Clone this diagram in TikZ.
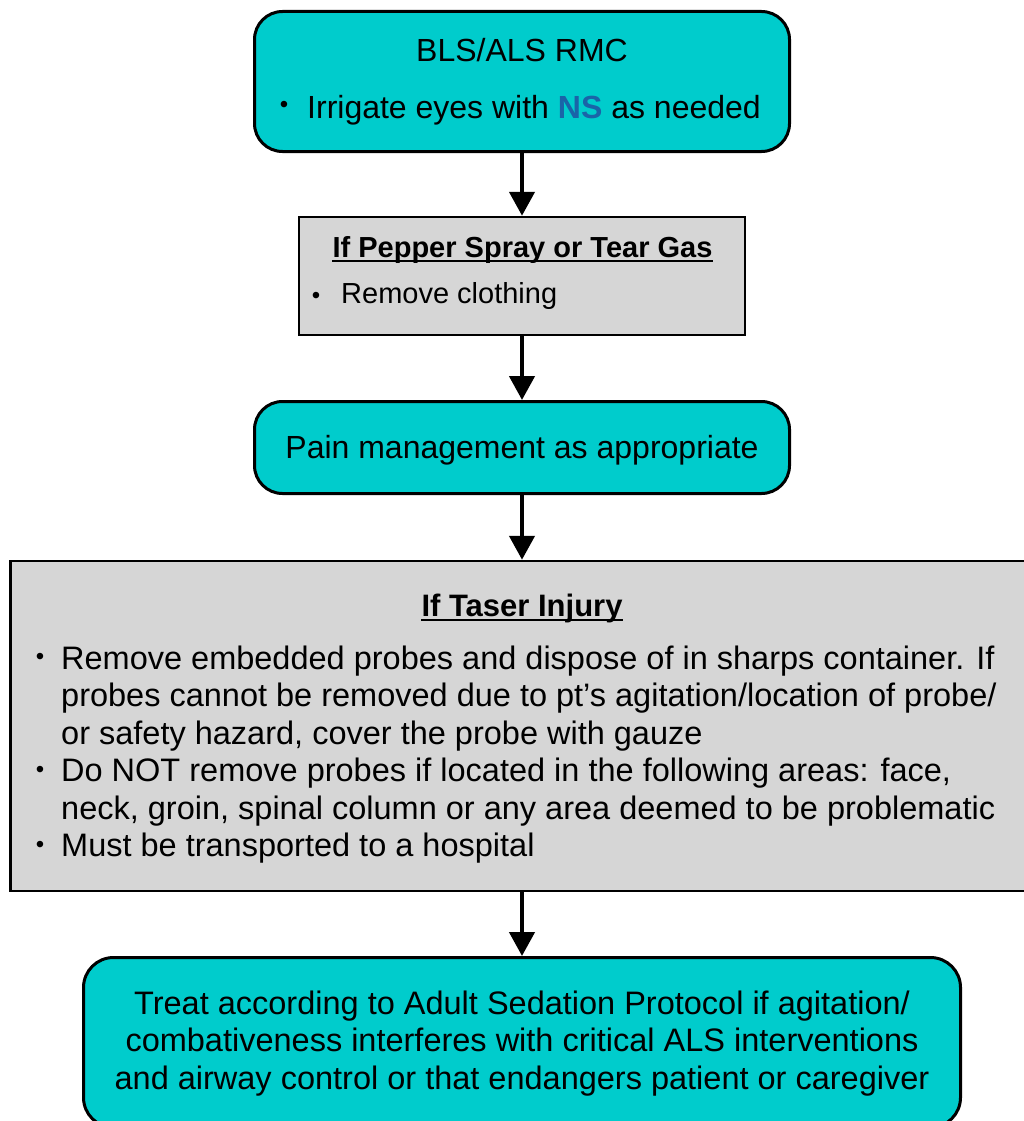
\documentclass[tikz,border=0pt]{standalone}
\usepackage{fontspec}
\setmainfont{Liberation Sans}
\usetikzlibrary{arrows.meta}
\definecolor{boxcyan}{RGB}{0,204,204}
\definecolor{boxgray}{RGB}{214,214,214}
\definecolor{nsblue}{RGB}{26,100,168}
\begin{document}
\begin{tikzpicture}[x=1pt,y=-1pt,
  cbox/.style={draw=black,line width=3pt,fill=boxcyan,rounded corners=28pt,inner sep=0pt},
  gbox/.style={draw=black,line width=2.5pt,fill=boxgray,inner sep=0pt},
  txt/.style={inner sep=0pt,font=\fontsize{32.5}{37.5}\selectfont},
  stxt/.style={inner sep=0pt,font=\fontsize{32}{37.5}\selectfont},
  ttl/.style={inner sep=0pt,font=\fontsize{31}{37.5}\selectfont\bfseries},
  gtxt/.style={inner sep=0pt,font=\fontsize{29}{34}\selectfont},
  gttl/.style={inner sep=0pt,font=\fontsize{29}{34}\selectfont\bfseries},
  bul/.style={inner sep=0pt,font=\fontsize{24}{24}\selectfont},
  flow/.style={line width=4.5pt,-{Triangle[length=24pt,width=25pt]}},
  uline/.style={line width=2pt}]
\useasboundingbox (0,0) rectangle (1023,1121);
% boxes
\node[cbox,minimum width=535pt,minimum height=140pt] (top) at (522,81.5) {};
\node[gbox,minimum width=446pt,minimum height=118pt] (pepper) at (522,276) {};
\node[cbox,minimum width=535pt,minimum height=92pt] (pain) at (522,447.5) {};
\node[gbox,minimum width=1029pt,minimum height=330pt] (taser) at (525,726) {};
\node[cbox,rounded corners=30pt,minimum width=877pt,minimum height=170pt] (sed) at (522,1042.5) {};
% arrows
\draw[flow] (top.south) -- (pepper.north);
\draw[flow] (pepper.south) -- (pain.north);
\draw[flow] (pain.south) -- (pain.south |- taser.north);
\draw[flow] (taser.south -| sed.north) -- (sed.north);
% top box text
\node[stxt,anchor=base] (t1) at (522,62) {BLS/ALS RMC};
\node[bul] (tb) at (284,107) {•};
\node[stxt,anchor=base west] (t2) at (307,118) {Irrigate eyes with {\bfseries\color{nsblue}NS} as needed};
% pepper box text
\node[gttl,anchor=base] (g1) at (522.5,257) {If Pepper Spray or Tear Gas};
\draw[uline] ([yshift=-3.5pt]g1.base west) -- ([yshift=-3.5pt]g1.base east);
\node[bul] (gb) at (316,297.5) {•};
\node[gtxt,anchor=base west] (g2) at (341,303) {Remove clothing};
% pain
\node[stxt,anchor=base] (p1) at (522,458) {Pain management as appropriate};
% taser
\node[ttl,anchor=base] (s0) at (522,616) {If Taser Injury};
\draw[uline] ([yshift=-3.5pt]s0.base west) -- ([yshift=-3.5pt]s0.base east);
\node[bul] (sb1) at (40,659) {•};
\node[txt,anchor=base west,align=left] (s1) at (61,744) {Remove embedded probes and dispose of in sharps container. If\\probes cannot be removed due to pt’s agitation/location of probe/\\or safety hazard, cover the probe with gauze};
\node[bul] (sb2) at (40,771.5) {•};
\node[txt,anchor=base west,align=left] (s2) at (61,819) {Do NOT remove probes if located in the following areas: face,\\neck, groin, spinal column or any area deemed to be problematic};
\node[bul] (sb3) at (40,846.5) {•};
\node[txt,anchor=base west] (s3) at (61,856.5) {Must be transported to a hospital};
% sedation
\node[txt,anchor=base,align=center] (e1) at (522,1089) {Treat according to Adult Sedation Protocol if agitation/\\combativeness interferes with critical ALS interventions\\and airway control or that endangers patient or caregiver};
\end{tikzpicture}
\end{document}
